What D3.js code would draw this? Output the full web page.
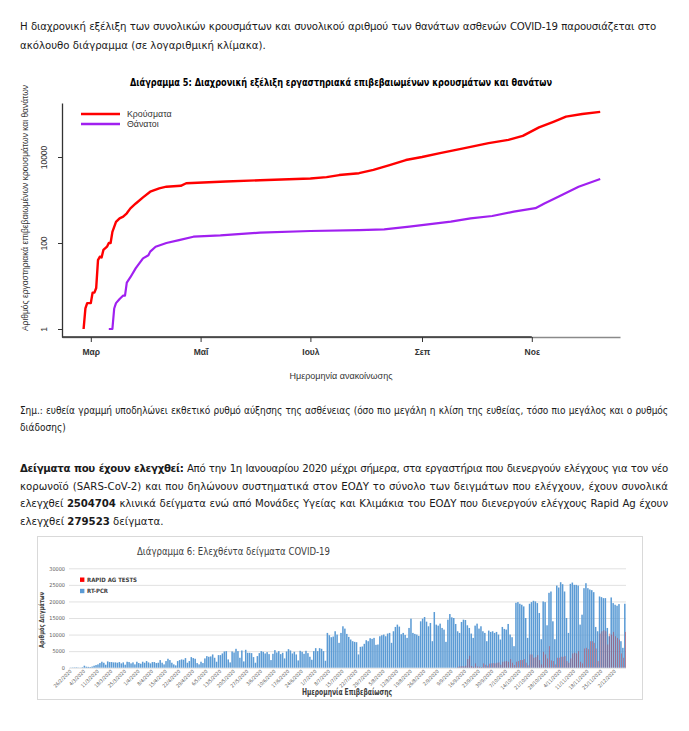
<!DOCTYPE html>
<html lang="el"><head><meta charset="utf-8">
<script src="https://cdn.jsdelivr.net/npm/d3@7/dist/d3.min.js"></script>
<style>
html,body{margin:0;padding:0;background:#fff;}
body{width:689px;height:731px;position:relative;overflow:hidden;}
#page{position:absolute;left:0;top:0;}
.ln{position:absolute;left:20px;line-height:16px;height:16px;color:#1a1a1a;
  font-family:"Liberation Sans Narrow","Arial Narrow","DejaVu Sans Condensed",sans-serif;white-space:nowrap;}
</style></head><body>
<svg id="page" width="689" height="731"></svg>
<script>
// ================= DATA =================
// Diagram 5 – cumulative cases / deaths (log scale)
const caseDates = ["2020-02-26","2020-02-27","2020-02-28","2020-03-01","2020-03-02","2020-03-03","2020-03-04","2020-03-05","2020-03-06","2020-03-07","2020-03-08","2020-03-10","2020-03-11","2020-03-12","2020-03-13","2020-03-15","2020-03-17","2020-03-19","2020-03-21","2020-03-23","2020-03-26","2020-03-30","2020-04-03","2020-04-08","2020-04-12","2020-04-20","2020-04-23","2020-05-15","2020-06-03","2020-07-01","2020-07-10","2020-07-17","2020-07-28","2020-08-05","2020-08-14","2020-08-23","2020-09-01","2020-09-11","2020-09-24","2020-10-08","2020-10-19","2020-10-27","2020-11-05","2020-11-13","2020-11-20","2020-11-29","2020-12-09"];
const caseValues = [1,3,4,4,7,7,9,40,48,46,69,82,100,100,182,310,375,410,490,640,830,1150,1560,1870,2040,2140,2450,2690,2880,3170,3400,3800,4200,5000,6500,8500,10000,12300,15900,21000,25000,30900,49000,66000,87000,100000,112000];
const deathDates = ["2020-03-11","2020-03-13","2020-03-14","2020-03-15","2020-03-17","2020-03-19","2020-03-20","2020-03-21","2020-03-23","2020-03-26","2020-03-30","2020-04-02","2020-04-03","2020-04-06","2020-04-12","2020-04-19","2020-04-27","2020-05-12","2020-06-03","2020-07-01","2020-07-28","2020-08-11","2020-08-25","2020-09-17","2020-09-28","2020-10-10","2020-10-22","2020-11-03","2020-11-08","2020-11-16","2020-11-27","2020-12-09"];
const deathValues = [1,1,3,4,5,6,6,12,16,26,44,52,63,82,100,117,140,150,174,190,200,208,240,315,375,425,535,645,830,1200,2040,3090];
const seriesNames = ["Κρούσματα","Θάνατοι"];
const monthTicks = ["2020-03-01","2020-05-01","2020-07-01","2020-09-01","2020-11-01"];
const monthLabels = ["Μαρ","Μαΐ","Ιουλ","Σεπ","Νοε"];
const logTicks = [1,100,10000];

// Diagram 6 – daily tested samples
const testStart = "2020-02-26";
const pcrValues = [
 50,80,100,120,60,40,150,
 600,300,250,200,350,600,800,
 1000,1400,1800,1500,900,1900,1700,
 1700,1600,1600,1500,1700,1300,1600,
 900,1800,1700,1300,1600,1000,1800,
 1400,1200,1800,1500,2000,1600,1300,
 1700,1700,1400,1500,2300,1500,1000,
 2000,2700,2300,1500,1000,700,2000,
 2300,2500,2400,2900,1500,2000,3200,
 2900,2700,1400,1000,1800,1400,2800,
 3500,3300,3400,4000,3000,1800,3800,
 3800,4300,4900,5000,2500,1600,4900,
 4600,5700,5000,3000,5200,1900,5400,
 4500,4500,4400,3200,1500,3500,4400,
 5000,4800,4300,4700,4100,2300,4200,
 5300,4600,5000,4100,4500,2800,4900,
 5600,5200,4300,4800,4000,2200,5100,
 4800,4200,5100,4400,3300,2400,5000,
 5900,5000,5900,5700,5000,2100,10500,
 9800,9200,9400,11000,10000,7500,10500,
 12500,11800,10200,9300,8500,8000,7800,
 7700,4000,6300,6400,7200,8300,8000,
 8900,8700,9000,6900,7000,9500,9800,
 10000,9500,10300,10500,7500,11000,12300,
 13000,12400,10100,10500,9900,9000,12000,
 14800,10500,10200,10000,9600,14000,14800,
 15300,13900,12500,13500,8000,16800,13000,
 12700,13300,12000,11500,7800,14500,16200,
 15200,15000,13200,11000,10500,13800,14500,
 14400,12800,12000,10300,9000,12700,13300,
 11800,12500,11000,10500,8000,11200,10800,
 11000,10500,10800,10000,8500,12300,11700,
 11500,13200,10000,9200,6500,19600,19800,
 19300,19000,18500,15000,9000,19300,19800,
 20200,20000,19500,16500,8600,20000,19800,
 12800,22600,23000,14000,8600,24800,24200,
 25800,25200,23000,15000,10500,25300,25700,
 25000,25000,24800,13000,16000,24000,25500,
 24000,23600,23400,22800,12300,11000,21500,
 21300,21000,21000,12000,9500,21200,19500,
 19000,18700,19200,8000,6000,19300];
const rapidStart = "2020-09-12";
const rapidValues = [
 300,400,500,400,600,2600,3600,
 500,300,1300,400,300,200,1300,
 900,600,1200,1300,1400,1300,1500,
 1600,900,1800,1900,2000,1800,2600,
 1500,800,1800,2000,2300,2300,2600,
 1500,700,4000,4000,3000,3200,3800,
 2300,1000,4800,4000,2800,6500,2200,
 2000,1000,3000,3000,3300,3300,3500,
 2000,1500,2800,4300,4500,4300,5000,
 1800,1300,5800,6000,5600,8000,8000,
 7500,5800,2000,10300,11000,11300,11000,
 7000,10300,10000,10800,9500,9000,8500,
 4300,3000,10800];
const testSeries = ["RAPID AG TESTS","RT-PCR"];
const testTicks = [0,5000,10000,15000,20000,25000,30000];

// Texts
const title5 = "Διάγραμμα 5: Διαχρονική εξέλιξη εργαστηριακά επιβεβαιωμένων κρουσμάτων και θανάτων";
const yTitle5 = "Αριθμός εργαστηριακά επιβεβαιωμένων κρουσμάτων και θανάτων";
const xTitle5 = "Ημερομηνία ανακοίνωσης";
const title6 = "Διάγραμμα 6: Ελεχθέντα δείγματα COVID-19";
const yTitle6 = "Αριθμός Δειγμάτων";
const xTitle6 = "Ημερομηνία Επιβεβαίωσης";
const bodyLines = [
 {y:26, s:12, w:636, h:"Η διαχρονική εξέλιξη των συνολικών κρουσμάτων και συνολικού αριθμού των θανάτων ασθενών COVID-19 παρουσιάζεται στο"},
 {y:45, s:12, w:0, h:"ακόλουθο διάγραμμα (σε λογαριθμική κλίμακα)."},
 {y:411, s:10.6, w:648, h:"Σημ.: ευθεία γραμμή υποδηλώνει εκθετικό ρυθμό αύξησης της ασθένειας (όσο πιο μεγάλη η κλίση της ευθείας, τόσο πιο μεγάλος και ο ρυθμός"},
 {y:428, s:10.6, w:0, h:"διάδοσης)"},
 {y:468, s:12, w:648, h:"<b>Δείγματα που έχουν ελεγχθεί:</b> Από την 1η Ιανουαρίου 2020 μέχρι σήμερα, στα εργαστήρια που διενεργούν ελέγχους για τον νέο"},
 {y:486, s:12, w:648, h:"κορωνοϊό (SARS-CoV-2) και που δηλώνουν συστηματικά στον ΕΟΔΥ το σύνολο των δειγμάτων που ελέγχουν, έχουν συνολικά"},
 {y:503, s:12, w:648, h:"ελεγχθεί <b>2504704</b> κλινικά δείγματα ενώ από Μονάδες Υγείας και Κλιμάκια του ΕΟΔΥ που διενεργούν ελέγχους Rapid Ag έχουν"},
 {y:521, s:12, w:0, h:"ελεγχθεί <b>279523</b> δείγματα."}
];

// ================= BODY TEXT =================
(function(){
  const probe = document.createElement("div");
  probe.className = "ln"; probe.style.fontSize = "12px"; probe.style.top = "-100px";
  probe.innerHTML = "<span>"+bodyLines[1].h+"</span>";
  document.body.appendChild(probe);
  const k = 246 / probe.firstChild.getBoundingClientRect().width;
  probe.remove();
  bodyLines.forEach(l=>{
    const d = document.createElement("div");
    d.className = "ln";
    d.style.top = (l.y - 8) + "px";
    d.style.fontSize = (l.s * k) + "px";
    d.innerHTML = "<span>" + l.h + "</span>";
    document.body.appendChild(d);
    if (l.w) {
      const sp = d.firstChild;
      const txt = sp.textContent;
      const nSp = (txt.match(/ /g)||[]).length;
      let w = sp.getBoundingClientRect().width;
      let ws = (l.w - w) / nSp;
      if (ws < 0.5) {
        const ls = (l.w - w - nSp*0.5) / txt.length;
        d.style.letterSpacing = ls + "px";
        w = sp.getBoundingClientRect().width;
        ws = (l.w - w) / nSp;
      }
      d.style.wordSpacing = ws + "px";
    }
  });
})();

// ================= DIAGRAM 5 =================
const svg = d3.select("#page");
const parse = d3.timeParse("%Y-%m-%d");
const F5 = "'Liberation Sans', Arial, sans-serif";

svg.append("text").attr("x",341).attr("y",85.5).attr("text-anchor","middle")
  .attr("font-family","'Liberation Sans Narrow','DejaVu Sans Condensed',sans-serif").attr("font-weight","bold")
  .attr("font-size",10.8).attr("fill","#000").attr("textLength",422).attr("lengthAdjust","spacingAndGlyphs").text(title5);

const x5 = d3.scaleTime().domain([parse("2020-02-14"), parse("2020-12-20")]).range([62,620]);
const y5 = d3.scaleLog().domain([Math.pow(10,-8/43), Math.pow(10,226/43)]).range([337,103]);

const gy = svg.append("g").attr("transform","translate(62,0)")
  .call(d3.axisLeft(y5).tickValues(logTicks).tickSize(4).tickSizeOuter(0).tickFormat(d3.format("d")));
gy.select(".domain").attr("stroke","#333").attr("stroke-width",1.3);
gy.selectAll(".tick line").attr("stroke","#333");
gy.selectAll(".tick text").attr("x",0).attr("dy",null).attr("transform","translate(-15,0) rotate(-90)")
  .attr("text-anchor","middle").attr("font-family",F5).attr("font-size",8.5).attr("fill","#333");

const gx = svg.append("g").attr("transform","translate(0,337)")
  .call(d3.axisBottom(x5).tickValues(monthTicks.map(parse)).tickSize(5).tickSizeOuter(0)
  .tickFormat((d,i)=>monthLabels[i]));
gx.select(".domain").attr("stroke","#8a8a8a").attr("stroke-width",1.6);
gx.append("line").attr("x1",62).attr("x2",x5(parse(monthTicks[4]))).attr("stroke","#333").attr("stroke-width",1.6);
gx.selectAll(".tick line").attr("stroke","#333");
gx.selectAll(".tick text").attr("y",12).attr("font-family",F5).attr("font-size",8.5).attr("fill","#333").attr("font-weight","bold");

svg.append("text").attr("transform","translate(28,208) rotate(-90)").attr("text-anchor","middle")
  .attr("font-family",F5).attr("font-size",9).attr("fill","#333").attr("textLength",246).attr("lengthAdjust","spacingAndGlyphs").text(yTitle5);
svg.append("text").attr("x",341).attr("y",379).attr("text-anchor","middle")
  .attr("font-family",F5).attr("font-size",8.5).attr("fill","#333").attr("textLength",103).attr("lengthAdjust","spacingAndGlyphs").text(xTitle5);

const line5 = d3.line().x(d=>x5(d[0])).y(d=>y5(d[1]));
const colors5 = ["#ff0000","#a020f0"];
svg.append("path").datum(d3.zip(caseDates.map(parse), caseValues)).attr("d",line5)
  .attr("fill","none").attr("stroke",colors5[0]).attr("stroke-width",2.4).attr("stroke-linejoin","round");
svg.append("path").datum(d3.zip(deathDates.map(parse), deathValues)).attr("d",line5)
  .attr("fill","none").attr("stroke",colors5[1]).attr("stroke-width",2.2).attr("stroke-linejoin","round");

seriesNames.forEach((n,i)=>{
  const yy = 114 + i*10;
  svg.append("line").attr("x1",81).attr("x2",120).attr("y1",yy).attr("y2",yy).attr("stroke",colors5[i]).attr("stroke-width",2.4);
  svg.append("text").attr("x",127).attr("y",yy+3).attr("font-family",F5).attr("font-size",8.8).attr("fill","#333").text(n);
});

// ================= DIAGRAM 6 =================
const F6 = "'Liberation Sans Narrow','DejaVu Sans Condensed',sans-serif";
svg.append("rect").attr("x",37.5).attr("y",536.5).attr("width",605).attr("height",163)
  .attr("fill","#fff").attr("stroke","#d9d9d9").attr("stroke-width",1);

svg.append("text").attr("x",233.5).attr("y",555).attr("text-anchor","middle").attr("font-family",F6)
  .attr("font-size",10.5).attr("fill","#404040").attr("textLength",193).attr("lengthAdjust","spacingAndGlyphs").text(title6);

const days = d3.timeDay.range(parse(testStart), d3.timeDay.offset(parse(testStart), pcrValues.length));
const fmt = d3.timeFormat("%-d/%-m/%Y");
const cats = days.map(fmt);
const rapidOffset = d3.timeDay.count(parse(testStart), parse(rapidStart));
const rapidAll = cats.map((c,i)=> (i>=rapidOffset && i-rapidOffset < rapidValues.length) ? rapidValues[i-rapidOffset] : 0);

const x6 = d3.scaleBand().domain(cats).range([70,626]).padding(0);
const y6 = d3.scaleLinear().domain([0,30000]).range([667.7,568.3]);
const bw = x6.bandwidth();

const gy6 = svg.append("g").attr("transform","translate(69,0)")
  .call(d3.axisLeft(y6).tickValues(testTicks).tickSize(-557).tickSizeOuter(0).tickPadding(4).tickFormat(d3.format("d")));
gy6.select(".domain").remove();
gy6.selectAll(".tick line").attr("stroke","#d9d9d9").attr("stroke-width",0.8);
gy6.selectAll(".tick text").attr("font-family",F6).attr("font-size",5.5).attr("fill","#595959");

svg.append("g").selectAll("rect").data(cats).join("rect")
  .attr("x",d=>x6(d)).attr("width",bw*0.78)
  .attr("y",(d,i)=>y6(pcrValues[i])).attr("height",(d,i)=>y6(0)-y6(pcrValues[i]))
  .attr("fill","#5b9bd5");
svg.append("g").selectAll("rect").data(cats).join("rect")
  .attr("x",d=>x6(d)+bw*0.5).attr("width",bw*0.32)
  .attr("y",(d,i)=>y6(rapidAll[i])).attr("height",(d,i)=>y6(0)-y6(rapidAll[i]))
  .attr("fill","#e00000").attr("fill-opacity",0.55);

const gx6 = svg.append("g").attr("transform","translate(0,667.7)")
  .call(d3.axisBottom(x6).tickValues(cats.filter((c,i)=>i%7===0)).tickSize(0).tickPadding(0));
gx6.select(".domain").remove();
gx6.selectAll(".tick text").attr("y",0).attr("dy",null).attr("text-anchor","end")
  .attr("transform","translate(1,4) rotate(-45)").attr("font-family",F6).attr("font-size",5).attr("fill","#595959");

svg.append("text").attr("transform","translate(44,620) rotate(-90)").attr("text-anchor","middle")
  .attr("font-family",F6).attr("font-size",7).attr("font-weight","bold").attr("fill","#404040")
  .attr("textLength",56).attr("lengthAdjust","spacingAndGlyphs").text(yTitle6);
svg.append("text").attr("x",347).attr("y",695).attr("text-anchor","middle")
  .attr("font-family",F6).attr("font-size",8).attr("font-weight","bold").attr("fill","#404040")
  .attr("textLength",90).attr("lengthAdjust","spacingAndGlyphs").text(xTitle6);

const colors6 = ["#ff0000","#5b9bd5"];
testSeries.forEach((n,i)=>{
  const yy = 579.7 + i*11.3;
  svg.append("rect").attr("x",80).attr("y",yy-2.2).attr("width",4.4).attr("height",4.4).attr("fill",colors6[i]);
  svg.append("text").attr("x",87).attr("y",yy+2).attr("font-family",F6).attr("font-size",6)
    .attr("font-weight","bold").attr("fill","#404040").text(n);
});
</script>
</body></html>
